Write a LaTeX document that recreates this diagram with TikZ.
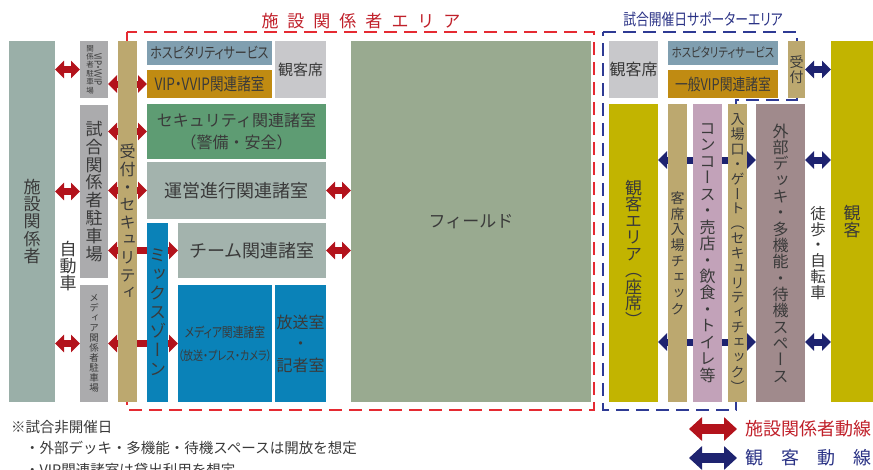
\documentclass[tikz,border=0pt]{standalone}
\usepackage{fontspec}
\setmainfont{Noto Sans CJK JP}
\newfontfamily\tatefont[RawFeature=+vert]{Noto Sans CJK JP}
\newfontfamily\narrowfont[FakeStretch=0.8,RawFeature=+palt]{Noto Sans CJK JP}
\usetikzlibrary{arrows.meta,backgrounds}

\definecolor{facgray}{HTML}{9AAFA8}
\definecolor{parkgray}{HTML}{ABABAD}
\definecolor{tan}{HTML}{BCA86F}
\definecolor{hospblue}{HTML}{809FB0}
\definecolor{vipgold}{HTML}{C08B12}
\definecolor{seatgray}{HTML}{C8C8CB}
\definecolor{secgreen}{HTML}{5E9C73}
\definecolor{opgray}{HTML}{A3B3AD}
\definecolor{mixblue}{HTML}{0A82B8}
\definecolor{fieldgreen}{HTML}{99AA90}
\definecolor{olive}{HTML}{C2B400}
\definecolor{mauve}{HTML}{C2A2B9}
\definecolor{deckmauve}{HTML}{A08A8C}
\definecolor{flowred}{HTML}{B3131C}
\definecolor{flowblue}{HTML}{1E2370}
\definecolor{zonered}{HTML}{E52A32}
\definecolor{zoneblue}{HTML}{2E3A94}
\definecolor{titlered}{HTML}{C0202A}
\definecolor{titleblue}{HTML}{2A3285}
\definecolor{inkgray}{HTML}{3A3A3A}

\newcommand\jsize[1]{\fontsize{#1}{#1}\selectfont}
\makeatletter
% vertical writing: one character per line
\newcommand\tate[2][1.1]{\vbox{\tatefont\baselineskip=#1em\lineskiplimit=-\maxdimen\lineskip=0pt
  \@tfor\tch:=#2\do{\hbox to 1em{\hss\tch\hss}}}}
\newcommand\spaced[2]{\@tfor\tch:=#2\do{\tch\hspace{#1}}\unskip}
\makeatother

\begin{document}
\begin{tikzpicture}[x=1pt,y=-1pt,
  room/.style args={#1/#2/#3/#4}{rectangle,inner sep=0pt,outer sep=0pt,text=inkgray,
    minimum width={(#3-#1)*1pt},minimum height={(#4-#2)*1pt},at={({(#1+#3)/2},{(#2+#4)/2})}},
  word/.style={inner sep=0pt,outer sep=0pt,text=inkgray},
  redflow/.style={draw=flowred,line width=7pt,>={Triangle[length=9pt,width=17pt]},<->},
  blueflow/.style={redflow,draw=flowblue},
  bigredflow/.style={draw=flowred,line width=10pt,>={Triangle[length=13pt,width=23pt]},<->},
  bigblueflow/.style={bigredflow,draw=flowblue},
  redzone/.style={draw=zonered,line width=2.6pt,dash pattern=on 13pt off 7pt},
  bluezone/.style={redzone,draw=zoneblue}]
\useasboundingbox (0,0) rectangle (873,469);

% left: staff side
\node (fac) [room=9/41/55/402,fill=facgray,font=\jsize{17}] {\tate[1.02]{施設関係者}};
\node (car) [word,font=\jsize{17}] at (68,266) {\tate[1.02]{自動車}};
\node (vippark) [room=80/41/108/98,fill=parkgray] {$\vcenter{\jsize{7.5}\tate[1.12]{関係者駐車場}}\mkern1mu\vcenter{\hbox{\rotatebox{-90}{\jsize{10}\narrowfont VIP・VVIP}}}$};
\node (gamepark) [room=80/105/108/278,fill=parkgray,font=\jsize{17}] {\tate[1.05]{試合関係者駐車場}};
\node (mediapark) [room=80/285/108/402,fill=parkgray,font=\jsize{9.5}] {\tate[1.05]{メディア関係者駐車場}};
\node (gate) [room=118/41/137/402,fill=tan,font=\jsize{16}] {\tate[1.1]{受付・セキュリティ}};
\node (hosp) [room=147/41/272/65,fill=hospblue,font=\jsize{15}\narrowfont] {ホスピタリティサービス};
\node (viproom) [room=147/70/272/98,fill=vipgold,font=\jsize{17}\narrowfont] {VIP・VVIP関連諸室};
\node (seatL) [room=275/41/326/98,fill=seatgray,font=\jsize{15}] {観客席};
\node (secroom) [room=147/104/326/159,fill=secgreen,font=\fontsize{16}{22}\selectfont,align=center] {セキュリティ関連諸室\\（警備・安全）};
\node (oproom) [room=147/162/326/219,fill=opgray,font=\jsize{18}] {運営進行関連諸室};
\node (mix) [room=147/223/168/402,fill=mixblue,font=\jsize{17}] {\tate[1.12]{ミックスゾーン}};
\node (team) [room=178/223/326/278,fill=opgray,font=\jsize{18}] {チーム関連諸室};
\node (mediaroom) [room=178/285/272/402,fill=mixblue,font=\fontsize{13.5}{23}\narrowfont,align=center] {メディア関連諸室\\{\fontsize{12.5}{23}\selectfont（放送・プレス・カメラ）}};
\node (press) [room=275/285/326/402,fill=mixblue,font=\fontsize{16}{21.5}\selectfont,align=center] {放送室\\・\\記者室};
\node (field) [room=351/41/591/402,fill=fieldgreen,font=\jsize{17}] {フィールド};

% right: spectator side
\node (seatR) [room=609/41/658/98,fill=seatgray,font=\jsize{16}] {観客席};
\node (hospR) [room=668/41/778/65,fill=hospblue,font=\jsize{13}\narrowfont] {ホスピタリティサービス};
\node (genvip) [room=668/70/778/98,fill=vipgold,font=\jsize{16}\narrowfont] {一般VIP関連諸室};
\node (recR) [room=788/41/805/98,fill=tan,font=\jsize{14}] {\tate[1.07]{受付}};
\node (audience) [room=831/41/873/402,fill=olive,font=\jsize{17}] {\tate[1.03]{観客}};
\node (seatarea) [room=609/104/658/402,fill=olive,font=\jsize{17}] {\tate[0.97]{観客エリア（座席）}};
\node (check) [room=668/104/687/402,fill=tan,font=\jsize{14}] {\tate[1.13]{客席入場チェック}};
\node (concourse) [room=693/104/722/402,fill=mauve,font=\jsize{16}] {\tate[1.03]{コンコース・売店・飲食・トイレ等}};
\node (entry) [room=728/104/747/402,fill=tan,font=\jsize{14}] {\tate[1.06]{入場口・ゲート（セキュリティチェック）}};
\node (deck) [room=756/104/805/402,fill=deckmauve,font=\jsize{16}] {\tate[1.02]{外部デッキ・多機能・待機スペース}};
\node (walk) [word,font=\jsize{15.5}] at (818,253) {\tate[1.02]{徒歩・自転車}};

% titles
\node (facarea) [word,text=titlered,font=\jsize{17}] at (361,21) {\spaced{9pt}{施設関係者エリア}};
\node (suparea) [word,text=titleblue,font=\jsize{16}\narrowfont] at (703,19) {試合開催日サポーターエリア};

% notes
\node (note1) [word,anchor=west,font=\jsize{14.5}] at (11,427) {※試合非開催日};
\node (note2) [word,anchor=west,font=\jsize{14.5}] at (25,448) {・外部デッキ・多機能・待機スペースは開放を想定};
\node (note3) [word,anchor=west,font=\jsize{14.5}] at (25,470) {・VIP関連諸室は貸出利用を想定};

% legend
\coordinate (redA) at (689,429);
\coordinate (redB) at (737,429);
\coordinate (blueA) at (689,458);
\coordinate (blueB) at (737,458);
\node (legred) [word,anchor=west,text=titlered,font=\jsize{18}] at (745,429) {施設関係者動線};
\node (legblue) [word,anchor=west,text=titleblue,font=\jsize{18}] at (745,458) {観　客　動　線};
\draw [bigredflow] (redA) -- (redB);
\draw [bigblueflow] (blueA) -- (blueB);

\coordinate (upper) at (0,160);
\coordinate (lower) at (0,342);

\begin{scope}[on background layer]
\draw [redzone] (127,32) rectangle (594,410);
\draw [bluezone] (603,32) -- (797,32) -- (797,100) -- (736,100) -- (736,410) -- (603,410) -- cycle;
% staff flow
\draw [redflow] (fac.east |- vippark) -- (vippark.west);
\draw [redflow] (fac.east |- gamepark) -- (gamepark.west);
\draw [redflow] (fac.east |- mediapark) -- (mediapark.west);
\draw [redflow] (vippark.east |- viproom) -- (viproom.west);
\draw [redflow] (gamepark.east |- secroom) -- (secroom.west);
\draw [redflow] (gamepark.east |- oproom) -- (oproom.west);
\draw [redflow] (gamepark.east |- team) -- (team.west);
\draw [redflow] (mediapark.east |- mediaroom) -- (mediaroom.west);
\draw [redflow] (oproom.east) -- (field.west |- oproom);
\draw [redflow] (team.east) -- (field.west |- team);
% spectator flow
\draw [blueflow] (recR.east) -- (audience.west |- recR);
\draw [blueflow] (deck.east |- upper) -- (audience.west |- upper);
\draw [blueflow] (deck.east |- lower) -- (audience.west |- lower);
\draw [blueflow] (seatarea.east |- upper) -- (deck.west |- upper);
\draw [blueflow] (seatarea.east |- lower) -- (deck.west |- lower);
\end{scope}
\end{tikzpicture}
\end{document}
